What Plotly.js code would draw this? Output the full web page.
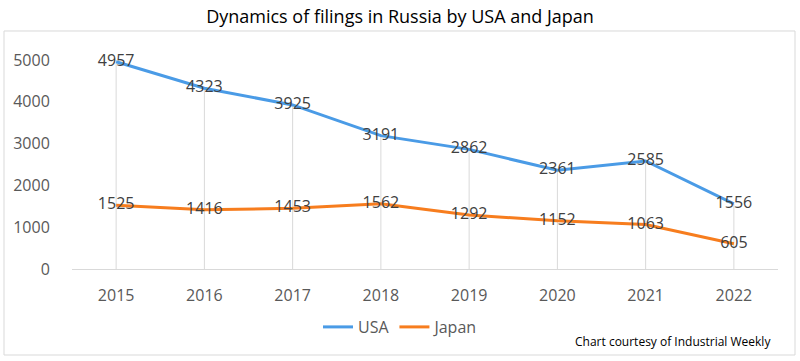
<!DOCTYPE html>
<html>
<head>
<meta charset="utf-8">
<script src="https://cdn.plot.ly/plotly-3.0.1.min.js"></script>
<style>html,body{margin:0;padding:0;background:#fff;}#chart{width:800px;height:361px;}</style>
</head>
<body>
<div id="chart"></div>
<script>
const years = ['2015','2016','2017','2018','2019','2020','2021','2022'];
const usa = [4957, 4323, 3925, 3191, 2862, 2361, 2585, 1556];
const japan = [1525, 1416, 1453, 1562, 1292, 1152, 1063, 605];
const yTicks = [0, 1000, 2000, 3000, 4000, 5000];

const FONT = 'Open Sans, sans-serif';
const LABEL = '#404040';

// drop lines from USA points to the axis
const dropX = [], dropY = [];
years.forEach((y, i) => { dropX.push(y, y, null); dropY.push(0, usa[i], null); });

const traces = [
  {x: dropX, y: dropY, mode: 'lines', line: {color: '#d9d9d9', width: 1}, showlegend: false, hoverinfo: 'skip'},
  {x: years, y: usa, name: 'USA', mode: 'lines+text', text: usa.map(String), textposition: 'middle center', cliponaxis: false,
   textfont: {family: FONT, size: 16, color: LABEL}, line: {color: '#4a9be6', width: 3}},
  {x: years, y: japan, name: 'Japan', mode: 'lines+text', text: japan.map(String), textposition: 'middle center', cliponaxis: false,
   textfont: {family: FONT, size: 16, color: LABEL}, line: {color: '#f77d1e', width: 3}}
];

const layout = {
  width: 800, height: 361,
  margin: {l: 72, r: 22, t: 60, b: 92},
  paper_bgcolor: '#fff', plot_bgcolor: '#fff',
  font: {family: FONT, color: '#595959'},
  title: {text: 'Dynamics of filings in Russia by USA and Japan', font: {family: FONT, size: 18, color: '#000'}, x: 0.5, xanchor: 'center', y: 0.955, yanchor: 'middle'},
  xaxis: {type: 'category', range: [-0.5, 7.5], showgrid: false, zeroline: false, showline: true, linecolor: '#d9d9d9', linewidth: 1,
          ticks: 'outside', ticklen: 12, tickcolor: 'rgba(0,0,0,0)', tickfont: {size: 16, color: '#595959'}, fixedrange: true},
  yaxis: {range: [0, 5000], tickvals: yTicks, ticktext: yTicks.map(String), showgrid: false, zeroline: false, showline: false,
          ticks: 'outside', ticklen: 18, tickcolor: 'rgba(0,0,0,0)', tickfont: {size: 16, color: '#595959'}, fixedrange: true},
  showlegend: true,
  legend: {orientation: 'h', x: 0.466, xanchor: 'center', y: -0.2775, yanchor: 'middle', font: {size: 16, color: '#595959'}, itemwidth: 30},
  annotations: [{xref: 'paper', yref: 'paper', x: 0.993, y: -0.349, xanchor: 'right', yanchor: 'middle', showarrow: false,
                 text: 'Chart courtesy of Industrial Weekly', font: {family: FONT, size: 12, color: '#000'}}],
  shapes: [{type: 'rect', xref: 'paper', yref: 'paper', x0: -0.0963, x1: 1.0241, y0: -0.4115, y1: 1.1388,
            line: {color: '#d9d9d9', width: 1}, fillcolor: 'rgba(0,0,0,0)', layer: 'below'}]
};

Plotly.newPlot('chart', traces, layout, {displayModeBar: false, staticPlot: true});
</script>
</body>
</html>
